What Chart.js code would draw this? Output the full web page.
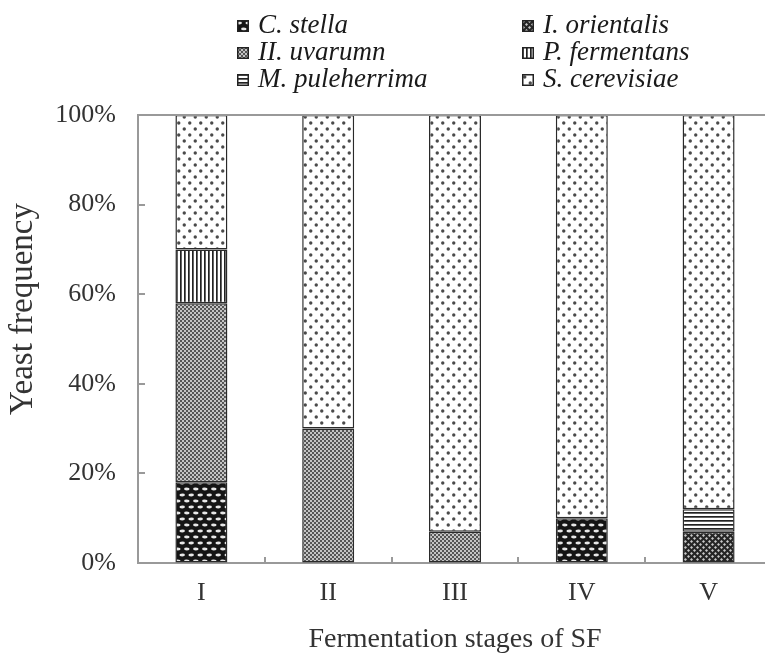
<!DOCTYPE html>
<html>
<head>
<meta charset="utf-8">
<script src="https://cdn.jsdelivr.net/npm/chart.js@4.4.1/dist/chart.umd.min.js"></script>
<style>
  html, body { margin: 0; padding: 0; background: #fff; overflow: hidden; }
  #wrap { position: relative; width: 780px; height: 654px; }
  #legend {
    position: absolute; left: 237px; top: 11px;
    display: grid; grid-template-columns: 285px 240px;
    font: italic 27px "Liberation Serif", "Times New Roman", serif;
    color: #1a1a1a; line-height: 27px;
  }
  .item { display: flex; align-items: center; height: 27px; white-space: nowrap; }
  .item canvas { margin-right: 9px; margin-top: 3px; }
</style>
</head>
<body>
<div id="wrap">
  <canvas id="yeastChart" width="780" height="654"></canvas>
  <div id="legend"></div>
</div>
<script>
  const stages = ['I', 'II', 'III', 'IV', 'V'];
  const species = ['C. stella', 'I. orientalis', 'II. uvarumn', 'P. fermentans', 'M. puleherrima', 'S. cerevisiae'];
  const cStella = [18, 0, 0, 10, 0];
  const iOrientalis = [0, 0, 0, 0, 7];
  const hUvarum = [40, 30, 7, 0, 0];
  const pFermentans = [12, 0, 0, 0, 0];
  const mPulcherrima = [0, 0, 0, 0, 5];
  const sCerevisiae = [30, 70, 93, 90, 88];
  const yTicks = [0, 20, 40, 60, 80, 100];

  // fill patterns, one per species
  function tile(w, h, draw) {
    const c = document.createElement('canvas');
    c.width = w; c.height = h;
    const g = c.getContext('2d');
    draw(g);
    return c;
  }
  function oval(g, x, y) {
    g.beginPath(); g.ellipse(x, y, 2.7, 1.4, 0, 0, Math.PI * 2); g.fill();
  }
  const tiles = [
    tile(9, 12, g => {
      g.fillStyle = '#151515'; g.fillRect(0, 0, 9, 12);
      g.fillStyle = '#e8e8e8';
      oval(g, 2.25, 3); oval(g, 6.75, 9); oval(g, -2.25, 9); oval(g, 11.25, 3);
    }),
    tile(6, 6, g => {
      g.fillStyle = '#262626'; g.fillRect(0, 0, 6, 6);
      g.fillStyle = '#c8c8c8';
      g.beginPath(); g.moveTo(1.5, 0); g.lineTo(3, 1.5); g.lineTo(1.5, 3); g.lineTo(0, 1.5); g.fill();
      g.beginPath(); g.moveTo(4.5, 3); g.lineTo(6, 4.5); g.lineTo(4.5, 6); g.lineTo(3, 4.5); g.fill();
    }),
    tile(4, 4, g => {
      g.fillStyle = '#c4c4c4'; g.fillRect(0, 0, 4, 4);
      g.fillStyle = '#555';
      g.fillRect(0, 0, 2, 2); g.fillRect(2, 2, 2, 2);
    }),
    tile(4, 4, g => {
      g.fillStyle = '#fff'; g.fillRect(0, 0, 4, 4);
      g.fillStyle = '#222'; g.fillRect(0, 0, 1.7, 4);
    }),
    tile(4, 4, g => {
      g.fillStyle = '#fff'; g.fillRect(0, 0, 4, 4);
      g.fillStyle = '#222'; g.fillRect(0, 0, 4, 1.7);
    }),
    tile(11, 12, g => {
      g.fillStyle = '#fff'; g.fillRect(0, 0, 11, 12);
      g.fillStyle = '#4a4a4a';
      g.beginPath(); g.arc(2.75, 3, 1.7, 0, Math.PI * 2); g.fill();
      g.beginPath(); g.arc(8.25, 9, 1.7, 0, Math.PI * 2); g.fill();
    })
  ];
  const ctx = document.getElementById('yeastChart').getContext('2d');
  const patterns = tiles.map(t => ctx.createPattern(t, 'repeat'));

  const series = [cStella, iOrientalis, hUvarum, pFermentans, mPulcherrima, sCerevisiae];
  const datasets = series.map((vals, i) => ({
    label: species[i],
    data: vals.map(v => v || null),
    backgroundColor: patterns[i],
    borderColor: '#2a2a2a',
    borderWidth: 1.5,
    borderSkipped: false,
    barPercentage: 0.41,
    categoryPercentage: 1
  }));

  const serif = '"Liberation Serif", "Times New Roman", serif';

  // frame, inward tick marks and the y title
  const framePlugin = {
    id: 'frame',
    afterDraw(chart) {
      const { ctx, chartArea: a, scales: { x, y } } = chart;
      ctx.save();
      ctx.strokeStyle = '#999';
      ctx.lineWidth = 2;
      ctx.beginPath();
      ctx.moveTo(a.left, a.top); ctx.lineTo(a.right, a.top); ctx.lineTo(a.right, a.bottom);
      yTicks.slice(1, -1).forEach(v => {
        const py = Math.round(y.getPixelForValue(v));
        ctx.moveTo(a.left, py); ctx.lineTo(a.left + 7, py);
      });
      for (let i = 0; i < stages.length - 1; i++) {
        const px = Math.round((x.getPixelForValue(i) + x.getPixelForValue(i + 1)) / 2);
        ctx.moveTo(px, a.bottom); ctx.lineTo(px, a.bottom - 6);
      }
      ctx.stroke();

      ctx.translate(23, 309);
      ctx.rotate(-Math.PI / 2);
      ctx.fillStyle = '#333';
      ctx.font = '33px ' + serif;
      ctx.textAlign = 'center';
      ctx.textBaseline = 'middle';
      ctx.fillText('Yeast frequency', 0, 0);
      ctx.restore();
    }
  };

  new Chart(ctx, {
    type: 'bar',
    data: { labels: stages, datasets },
    options: {
      responsive: false,
      animation: false,
      layout: { padding: { top: 115, right: 8, left: 0, bottom: 0 } },
      plugins: { legend: { display: false }, tooltip: { enabled: false } },
      scales: {
        x: {
          stacked: true,
          grid: { drawOnChartArea: false, drawTicks: false },
          border: { color: '#999', width: 2 },
          ticks: { color: '#333', padding: 15, font: { family: serif, size: 26 } },
          title: { display: true, text: 'Fermentation stages of SF', color: '#333',
                   font: { family: serif, size: 28, lineHeight: 1 }, padding: 0 },
          afterFit(s) { s.height = 91; }
        },
        y: {
          stacked: true,
          min: 0, max: 100,
          afterBuildTicks(s) { s.ticks = yTicks.map(v => ({ value: v })); },
          grid: { drawOnChartArea: false, drawTicks: false },
          border: { color: '#999', width: 2 },
          ticks: { color: '#333', padding: 22, font: { family: serif, size: 26 },
                   callback: v => v + '%' },
          afterFit(s) { s.width = 138; }
        }
      }
    },
    plugins: [framePlugin]
  });

  // two-column legend
  const legend = document.getElementById('legend');
  species.forEach((name, i) => {
    const item = document.createElement('div');
    item.className = 'item';
    const sw = document.createElement('canvas');
    sw.width = 12; sw.height = 12;
    const g = sw.getContext('2d');
    g.fillStyle = g.createPattern(tiles[i], 'repeat');
    g.fillRect(0, 0, 12, 12);
    g.strokeStyle = '#222'; g.lineWidth = 1.5;
    g.strokeRect(0.75, 0.75, 10.5, 10.5);
    item.appendChild(sw);
    item.appendChild(document.createTextNode(name));
    legend.appendChild(item);
  });
</script>
</body>
</html>
